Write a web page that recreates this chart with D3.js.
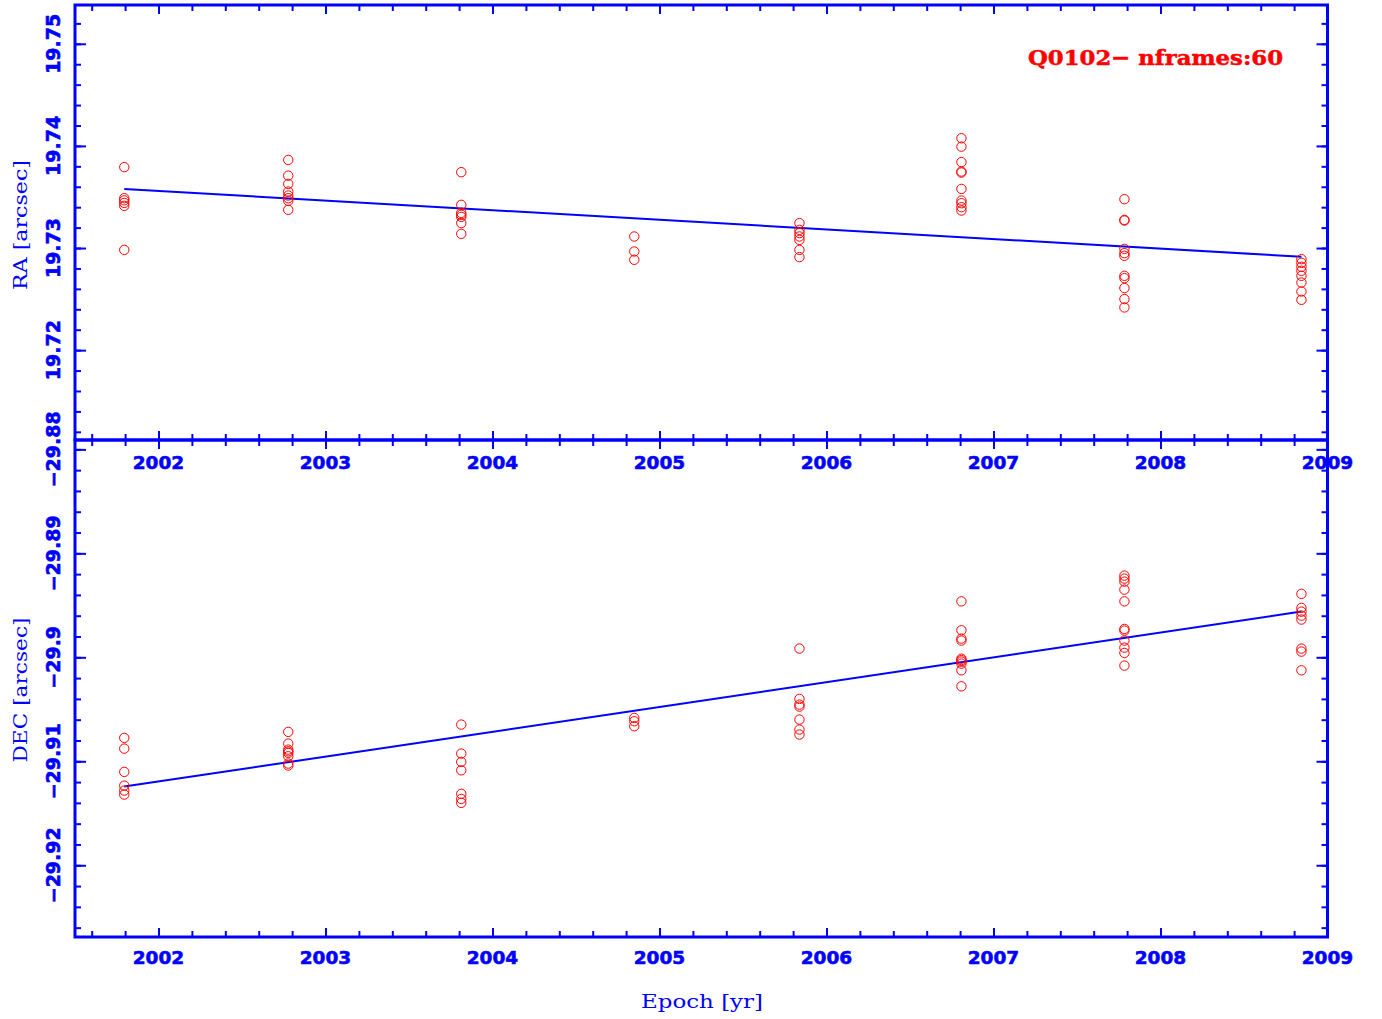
<!DOCTYPE html>
<html><head><meta charset="utf-8">
<script src="https://cdn.jsdelivr.net/npm/d3@7"></script>
<style>body{margin:0;background:#fff}svg{display:block}</style>
</head><body>
<script>
// ---- data ----
const epochs = [2001.795, 2002.777, 2003.813, 2004.849, 2005.838, 2006.808, 2007.784, 2008.844];
const raValues = [
  [19.73792, 19.73488, 19.73467, 19.73442, 19.73413, 19.72982],
  [19.73863, 19.73709, 19.73628, 19.73553, 19.73514, 19.73488, 19.73462, 19.73374],
  [19.73743, 19.73423, 19.73344, 19.73325, 19.73305, 19.73244, 19.73139],
  [19.73113, 19.72966, 19.72885],
  [19.73244, 19.73178, 19.73146, 19.73113, 19.73080, 19.72982, 19.72911],
  [19.74075, 19.73993, 19.73841, 19.73749, 19.73739, 19.73579, 19.73465, 19.73439, 19.73400, 19.73367],
  [19.73478, 19.73276, 19.73269, 19.72992, 19.72950, 19.72924, 19.72728, 19.72705, 19.72608, 19.72500, 19.72418],
  [19.72891, 19.72855, 19.72816, 19.72777, 19.72728, 19.72662, 19.72574, 19.72493]
];
const decValues = [
  [-29.90775, -29.90878, -29.91102, -29.91234, -29.91282, -29.91320],
  [-29.90717, -29.90830, -29.90888, -29.90904, -29.90919, -29.90952, -29.91022, -29.91041],
  [-29.90647, -29.90926, -29.91006, -29.91087, -29.91313, -29.91362, -29.91400],
  [-29.90583, -29.90615, -29.90663],
  [-29.89916, -29.90400, -29.90455, -29.90474, -29.90599, -29.90695, -29.90743],
  [-29.89462, -29.89740, -29.89820, -29.89839, -29.90013, -29.90027, -29.90041, -29.90061, -29.90125, -29.90279],
  [-29.89214, -29.89243, -29.89272, -29.89349, -29.89462, -29.89727, -29.89743, -29.89839, -29.89907, -29.89958, -29.90080],
  [-29.89390, -29.89525, -29.89561, -29.89599, -29.89637, -29.89916, -29.89945, -29.90125]
];
const raFit = [19.73579, 19.72914];     // fit values at first and last epoch
const decFit = [-29.91243, -29.89560];
const xTicks = [2002, 2003, 2004, 2005, 2006, 2007, 2008, 2009];
const raTicks = [19.72, 19.73, 19.74, 19.75];
const decTicks = [-29.92, -29.91, -29.90, -29.89, -29.88];
const raTickLabels = ["19.72", "19.73", "19.74", "19.75"];
const decTickLabels = ["\u221229.92", "\u221229.91", "\u221229.9", "\u221229.89", "\u221229.88"];
const titleText = "Q0102\u2212 nframes:60";

// ---- layout ----
const W = 1382, H = 1019;
const L = 75, R = 1327.5, T = 5, M = 440, B = 937;
const BLUE = "#0000ff", RED = "#ff0000";

const svg = d3.select("body").append("svg").attr("width", W).attr("height", H);
svg.append("rect").attr("width", W).attr("height", H).attr("fill", "#fff");

const x = d3.scaleLinear().domain([2001.5, 2009.0]).range([L, R]);
const yRA = d3.scaleLinear().domain([19.7112, 19.7538]).range([M, T]);
const yDec = d3.scaleLinear().domain([-29.9269, -29.8791]).range([B, M]);

const xMinor = d3.range(2001.6, 2009.01, 0.2).map(v => +v.toFixed(1));
const raMinor = d3.range(19.712, 19.7531, 0.002).map(v => +v.toFixed(3));
const decMinor = d3.range(-29.926, -29.8795, 0.002).map(v => +v.toFixed(3));

function styleAxis(g) {
  g.select(".domain").remove();
  g.selectAll("line").attr("stroke", BLUE).attr("stroke-width", 2);
}
function drawAxes(y, yMaj, yMin, top, bottom) {
  svg.append("g").attr("transform", `translate(${L},0)`)
    .call(d3.axisRight(y).tickValues(yMaj).tickSize(11).tickFormat("")).call(styleAxis);
  svg.append("g").attr("transform", `translate(${L},0)`)
    .call(d3.axisRight(y).tickValues(yMin).tickSize(6).tickFormat("")).call(styleAxis);
  svg.append("g").attr("transform", `translate(${R},0)`)
    .call(d3.axisLeft(y).tickValues(yMaj).tickSize(11).tickFormat("")).call(styleAxis);
  svg.append("g").attr("transform", `translate(${R},0)`)
    .call(d3.axisLeft(y).tickValues(yMin).tickSize(6).tickFormat("")).call(styleAxis);
  svg.append("g").attr("transform", `translate(0,${top})`)
    .call(d3.axisBottom(x).tickValues(xTicks).tickSize(9).tickFormat("")).call(styleAxis);
  svg.append("g").attr("transform", `translate(0,${top})`)
    .call(d3.axisBottom(x).tickValues(xMinor).tickSize(6).tickFormat("")).call(styleAxis);
  svg.append("g").attr("transform", `translate(0,${bottom})`)
    .call(d3.axisTop(x).tickValues(xTicks).tickSize(9).tickFormat("")).call(styleAxis);
  svg.append("g").attr("transform", `translate(0,${bottom})`)
    .call(d3.axisTop(x).tickValues(xMinor).tickSize(6).tickFormat("")).call(styleAxis);
}
drawAxes(yRA, raTicks, raMinor, T, M);
drawAxes(yDec, decTicks, decMinor, M, B);

svg.append("rect").attr("x", L).attr("y", T).attr("width", R - L).attr("height", M - T)
  .attr("fill", "none").attr("stroke", BLUE).attr("stroke-width", 3);
svg.append("rect").attr("x", L).attr("y", M).attr("width", R - L).attr("height", B - M)
  .attr("fill", "none").attr("stroke", BLUE).attr("stroke-width", 3);

// tick labels
const tickFont = "DejaVu Sans";
function xLabels(yPos) {
  svg.append("g").selectAll("text").data(xTicks).join("text")
    .attr("x", d => x(d)).attr("y", yPos)
    .attr("text-anchor", "middle").attr("dominant-baseline", "central")
    .attr("font-family", tickFont).attr("font-weight", "bold").attr("font-size", 18.5)
    .attr("fill", BLUE).attr("stroke", BLUE).attr("stroke-width", 0.6)
    .text(d => String(d));
}
xLabels(462);
xLabels(957);
function yLabels(y, vals, labels) {
  svg.append("g").selectAll("text").data(vals).join("text")
    .attr("transform", d => `translate(53,${y(d)}) rotate(-90)`)
    .attr("text-anchor", "middle").attr("dominant-baseline", "central")
    .attr("font-family", tickFont).attr("font-weight", "bold").attr("font-size", 19)
    .attr("fill", BLUE).attr("stroke", BLUE).attr("stroke-width", 0.6)
    .text((d, i) => labels[i]);
}
yLabels(yRA, raTicks, raTickLabels);
yLabels(yDec, decTicks, decTickLabels);

// axis titles
const titleFont = "DejaVu Serif";
svg.append("text").attr("transform", `translate(20,${225}) rotate(-90)`)
  .attr("text-anchor", "middle").attr("dominant-baseline", "central")
  .attr("font-family", titleFont).attr("font-size", 19).attr("fill", BLUE)
  .attr("textLength", 130).attr("lengthAdjust", "spacingAndGlyphs").text("RA [arcsec]");
svg.append("text").attr("transform", `translate(20,${690}) rotate(-90)`)
  .attr("text-anchor", "middle").attr("dominant-baseline", "central")
  .attr("font-family", titleFont).attr("font-size", 19).attr("fill", BLUE)
  .attr("textLength", 145).attr("lengthAdjust", "spacingAndGlyphs").text("DEC [arcsec]");
svg.append("text").attr("x", 702).attr("y", 1001)
  .attr("text-anchor", "middle").attr("dominant-baseline", "central")
  .attr("font-family", titleFont).attr("font-size", 19).attr("fill", BLUE)
  .attr("textLength", 122).attr("lengthAdjust", "spacingAndGlyphs").text("Epoch [yr]");

// title
svg.append("text").attr("x", 1283).attr("y", 57)
  .attr("text-anchor", "end").attr("dominant-baseline", "central")
  .attr("font-family", "DejaVu Serif").attr("font-weight", "bold").attr("font-size", 21)
  .attr("textLength", 255).attr("lengthAdjust", "spacingAndGlyphs")
  .attr("fill", RED).attr("stroke", RED).attr("stroke-width", 0.5).text(titleText);

// fit lines
const line = d3.line();
svg.append("path").attr("d", line([[x(epochs[0]), yRA(raFit[0])], [x(epochs[epochs.length - 1]), yRA(raFit[1])]]))
  .attr("stroke", BLUE).attr("stroke-width", 2).attr("fill", "none");
svg.append("path").attr("d", line([[x(epochs[0]), yDec(decFit[0])], [x(epochs[epochs.length - 1]), yDec(decFit[1])]]))
  .attr("stroke", BLUE).attr("stroke-width", 2).attr("fill", "none");

// points
function points(y, vals) {
  const pts = [];
  vals.forEach((arr, i) => arr.forEach(v => pts.push([epochs[i], v])));
  svg.append("g").selectAll("circle").data(pts).join("circle")
    .attr("cx", d => x(d[0])).attr("cy", d => y(d[1])).attr("r", 4.7)
    .attr("fill", "none").attr("stroke", RED).attr("stroke-width", 1);
}
points(yRA, raValues);
points(yDec, decValues);
</script>
</body></html>
